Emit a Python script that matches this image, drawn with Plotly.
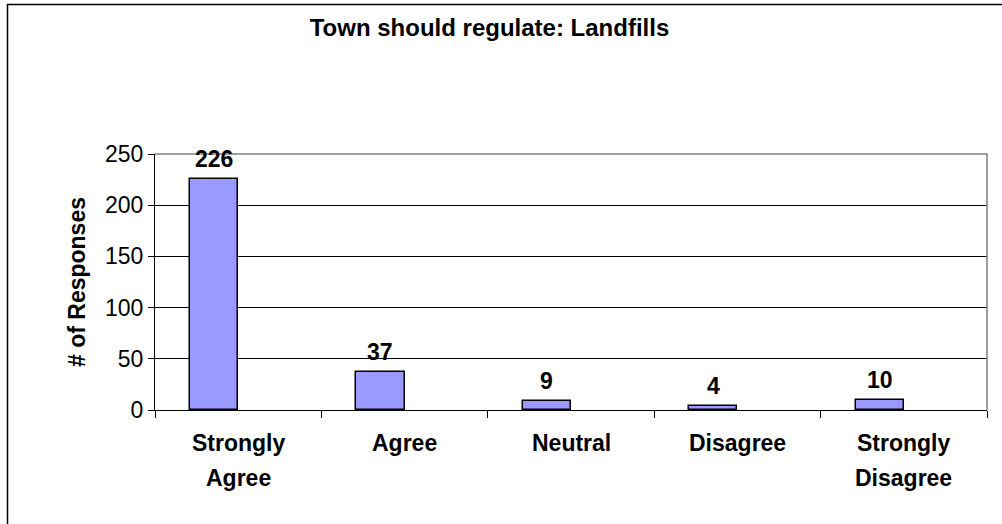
import plotly.graph_objects as go

# ---- data ----
categories = ["Strongly Agree", "Agree", "Neutral", "Disagree", "Strongly Disagree"]
responses = [226, 37, 9, 4, 10]
y_ticks = [0, 50, 100, 150, 200, 250]
title_text = "Town should regulate: Landfills"
y_title = "# of Responses"

# ---- layout constants ----
W, H = 1002, 524
L, T = 155, 154
R = W - 987
B = H - 410
plot_w = W - L - R
plot_h = H - T - B
cat_px = plot_w / len(categories)
BAR_W = 0.29
FONT = "Arial, Liberation Sans, sans-serif"
BAR_COLOR = "#9999FF"
FS = 23

fig = go.Figure()
fig.add_trace(go.Bar(
    x=categories, y=responses,
    width=BAR_W, offset=-BAR_W,
    marker=dict(color=BAR_COLOR, line=dict(color="black", width=1.5)),
    showlegend=False, hoverinfo="x+y",
))

annotations = []
# data labels
for c, v in zip(categories, responses):
    annotations.append(dict(
        x=c, y=v, xref="x", yref="y", text=f"<b>{v}</b>", showarrow=False,
        yanchor="bottom", xanchor="center", xshift=-BAR_W / 2 * cat_px, yshift=5,
        font=dict(family=FONT, size=FS, color="black"),
    ))
# category labels (two lines)
for c in categories:
    parts = c.split(" ")
    for i, p in enumerate(parts):
        annotations.append(dict(
            x=c, y=0, xref="x", yref="paper", text=f"<b>{p}</b>", showarrow=False,
            yanchor="middle", xanchor="center", yshift=-33 - 35 * i,
            font=dict(family=FONT, size=FS, color="black"),
        ))

fig.update_layout(
    width=W, height=H,
    margin=dict(l=L, r=R, t=T, b=B, pad=0),
    paper_bgcolor="white", plot_bgcolor="white",
    font=dict(family=FONT, color="black"),
    title=dict(text=f"<b>{title_text}</b>", x=489.5 / W, xref="container", xanchor="center",
               y=1 - 28 / H, yref="container", yanchor="middle",
               font=dict(family=FONT, size=24, color="black")),
    annotations=annotations,
    bargap=0,
    shapes=[
        # plot area top/right border (gray)
        dict(type="path", xref="paper", yref="paper", path="M 0,1 L 1,1 L 1,0",
             line=dict(color="#808080", width=1.5), layer="above"),
        # outer chart frame
        dict(type="rect", xref="paper", yref="paper",
             x0=(7.5 - L) / plot_w, x1=(W + 10 - L) / plot_w,
             y0=-(H + 10 - (H - B)) / plot_h, y1=(H - B - 4.5) / plot_h,
             line=dict(color="black", width=1.5), layer="above"),
    ],
)
fig.update_xaxes(
    type="category", showticklabels=False, tickson="boundaries",
    ticks="outside", ticklen=7, tickcolor="black", tickwidth=1,
    showline=True, linecolor="black", linewidth=1, showgrid=False,
)
fig.update_yaxes(
    range=[0, 250], tickvals=y_ticks, ticks="outside", ticklen=6, tickcolor="black",
    showline=True, linecolor="black", linewidth=1,
    showgrid=True, gridcolor="black", gridwidth=1, zeroline=False,
    tickfont=dict(family=FONT, size=FS, color="black"),
    title=dict(text=f"<b>{y_title}</b>", standoff=12,
               font=dict(family=FONT, size=FS, color="black")),
)

fig.write_html("out.html", config={"displayModeBar": False},
               post_script="document.body.style.margin='0';")
